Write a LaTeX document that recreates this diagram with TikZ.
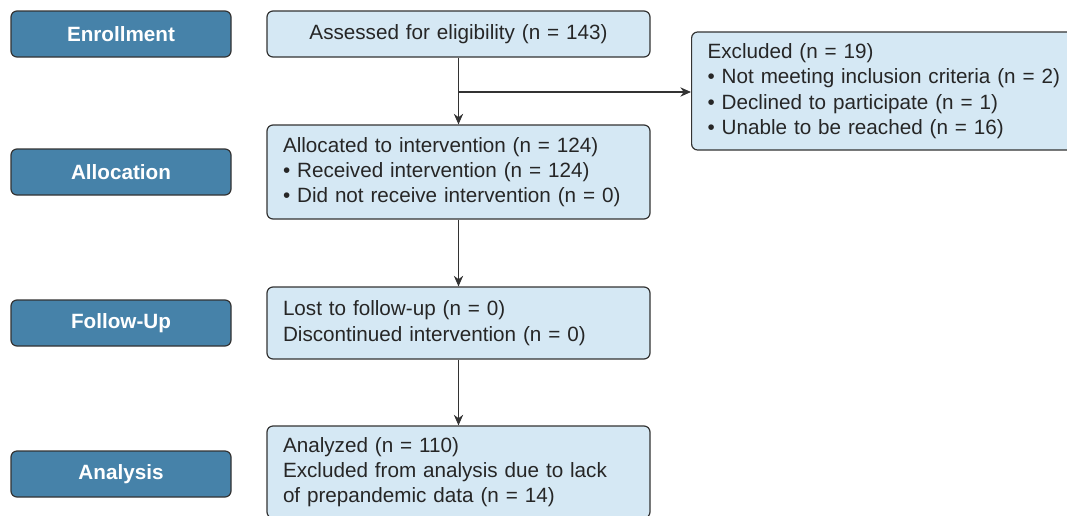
\documentclass[tikz,border=0pt]{standalone}
\usepackage{fontspec}
\setmainfont{Liberation Sans}
\usetikzlibrary{arrows.meta}
\definecolor{darkbox}{HTML}{4682A9}
\definecolor{lightbox}{HTML}{D5E8F4}
\definecolor{edge}{HTML}{333333}
\begin{document}
\begin{tikzpicture}[x=0.75pt,y=-0.75pt,
  base/.style={draw=edge,line width=0.9pt,rounded corners=4.5pt},
  stage/.style={base,fill=darkbox,text=white,minimum width=165pt,minimum height=34.5pt,
    font=\fontsize{15.5}{19}\selectfont\bfseries,inner sep=0pt},
  info/.style={base,fill=lightbox,text=black!85,minimum width=287.25pt,
    text width=263.25pt,inner xsep=12pt,inner ysep=0pt,align=left,
    font=\fontsize{15.5}{19}\selectfont},
  arr/.style={line width=0.9pt,draw=edge,-{Stealth[length=8pt,width=7pt]}}]
\useasboundingbox (0,0) rectangle (1067,515);
\clip (0,0) rectangle (1067,515);
% stage labels
\node[stage] (enr) at (121,34) {Enrollment};
\node[stage] (all) at (121,172) {Allocation};
\node[stage] (fol) at (121,323) {Follow-Up};
\node[stage] (ana) at (121,474) {Analysis};
% main boxes
\node[info,minimum height=34.5pt,align=center] (ass) at (458.5,34) {Assessed for eligibility (n = 143)};
\node[info,minimum height=70.5pt] (alloc) at (458.5,172) {Allocated to intervention (n = 124)\\
\textbullet\ Received intervention (n = 124)\\
\textbullet\ Did not receive intervention (n = 0)};
\node[info,minimum height=54pt] (lost) at (458.5,323) {Lost to follow-up (n = 0)\\
Discontinued intervention (n = 0)};
\node[info,minimum height=69pt] (anal) at (458.5,472) {Analyzed (n = 110)\\
Excluded from analysis due to lack\\
of prepandemic data (n = 14)};
\node[info,anchor=west,minimum width=310pt,text width=286pt,minimum height=88.5pt] (exc) at (691,91) {Excluded (n = 19)\\
\textbullet\ Not meeting inclusion criteria (n = 2)\\
\textbullet\ Declined to participate (n = 1)\\
\textbullet\ Unable to be reached (n = 16)};
% connectors
\coordinate (br) at (458.5,92);
\draw[arr] (ass.south) -- (alloc.north);
\draw[arr] (br) -- (br -| exc.west);
\draw[arr] (alloc.south) -- (lost.north);
\draw[arr] (lost.south) -- (anal.north);
\end{tikzpicture}
\end{document}
